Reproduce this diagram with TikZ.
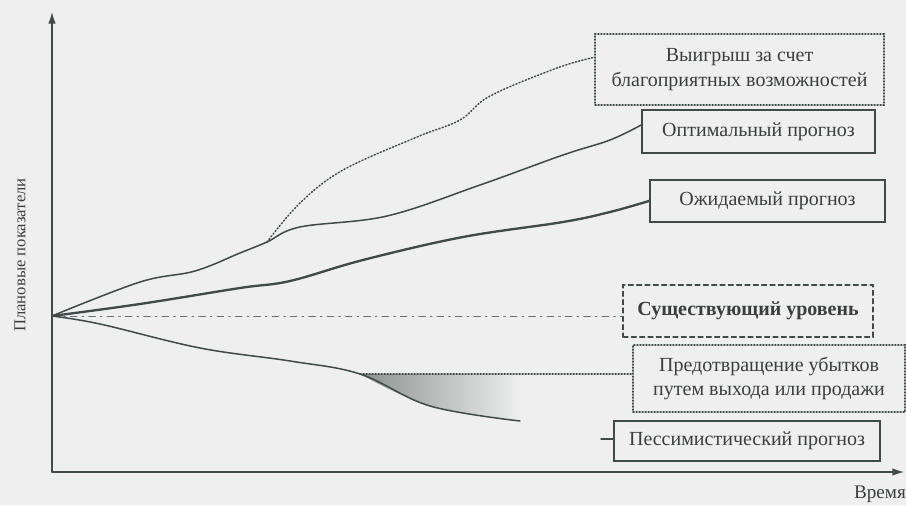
\documentclass[tikz,border=0pt]{standalone}
\usepackage{fontspec}
\setmainfont{Liberation Serif}
\usetikzlibrary{calc,arrows.meta,fadings}
\definecolor{fon}{HTML}{EFEFEF}
\definecolor{linia}{HTML}{3E4B49}
\definecolor{tekst}{HTML}{3A3E3D}
\definecolor{ten}{HTML}{8A9290}
\tikzfading[name=fadeloss,left color=transparent!0,right color=transparent!100]

\begin{document}
\begin{tikzpicture}[x=0.6pt,y=-0.6pt,>={Latex[length=7pt,width=4.5pt]},line cap=round,
    box/.style={draw=linia,line width=0.7pt,inner sep=0pt,align=center,text=tekst,
      font=\fontsize{12}{14.5}\selectfont},
    dotbox/.style={box,dash pattern=on 0.7pt off 1.1pt},
    curve/.style={linia,line width=0.9pt}]
        \fill[fon] (0,0) rectangle (906,505);
        \useasboundingbox (0,0) rectangle (906,505);
        \coordinate (O)    at (52,316);
        \coordinate (Xo)   at (52,472);
        \coordinate (Ytop) at (52,12);
        \coordinate (Xend) at (904,472);
        \draw[linia,line width=0.8pt,->] (Xo) -- (Ytop);
        \draw[linia,line width=0.8pt,->] (Xo) -- (Xend);
        \node[text=tekst,rotate=90,font=\fontsize{10}{12}\selectfont] (ylab) at (20,255) {Плановые показатели};
        \node[text=tekst,font=\fontsize{11.5}{14}\selectfont] (xlab) at (880,494) {Время};
        % boxes
        \node[dotbox,minimum width=173.4pt,minimum height=42.6pt] (win) at (739.5,69.5)
          {Выигрыш за счет\\благоприятных возможностей};
        \node[box,minimum width=139.8pt,minimum height=25.8pt] (opt) at (758.5,131.5) {Оптимальный прогноз};
        \node[box,line width=1.3pt,minimum width=141pt,minimum height=25.2pt] (exp) at (767.5,201) {Ожидаемый прогноз};
        \node[box,dash pattern=on 3pt off 2pt,minimum width=150pt,minimum height=31.2pt,
              font=\fontsize{12}{14.5}\selectfont\bfseries] (lvl) at (748,311) {Существующий уровень};
        \node[dotbox,minimum width=163.2pt,minimum height=40.2pt] (prev) at (769,378.5)
          {Предотвращение убытков\\путем выхода или продажи};
        \node[box,minimum width=159.6pt,minimum height=24pt] (pes) at (747,441) {Пессимистический прогноз};
        % losses avoided
        \fill[ten,path fading=fadeloss] plot[smooth,tension=0.6] coordinates {(360,374) (430,406)
          (520,421)} -- (520,374) -- cycle;
        \coordinate (pv) at (360,374);
        \draw[linia,dash pattern=on 0.7pt off 1.1pt,line width=0.7pt] (pv) -- (pv -| prev.west);
        \draw[linia!80,line width=0.5pt,dash pattern=on 4pt off 3pt on 1pt off 3pt] (O) -- (O -| lvl.west);
        % forecasts
        \coordinate (br) at (267,242);
        \draw[curve] plot[smooth,tension=0.6] coordinates {(O) (140,282) (195,271) (240,253) (br)
          (300,227) (387,216) (480,185) (563,155) (610,140)
          ($(opt.north west)!0.35!(opt.south west)$)};
        \draw[linia,line width=0.9pt,dash pattern=on 0.7pt off 1.3pt] plot[smooth,tension=0.6] coordinates
          {(br) (300,203) (343,170) (417,137) (460,120) (490,96) (557,68)
          ($(win.north west)!0.33!(win.south west)$)};
        \draw[linia,line width=1.4pt] plot[smooth,tension=0.6] coordinates {(O) (140,304) (240,288)
          (290,281) (363,260) (463,237) (563,222) (610,212) (exp.west)};
        \draw[curve] plot[smooth,tension=0.6] coordinates {(O) (100,324) (200,348) (290,361)
          (pv) (430,406) (520,421)};
        \coordinate (tk) at (601,439);
        \draw[curve] (tk) -- (tk -| pes.west);
      \end{tikzpicture}
\end{document}
